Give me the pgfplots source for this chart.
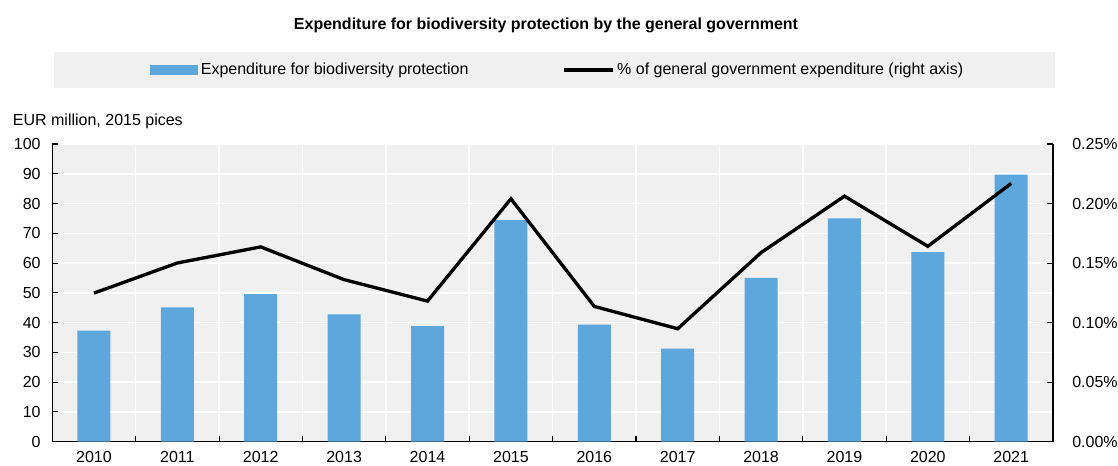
\documentclass[border=0pt]{standalone}
\usepackage{fontspec}
\setmainfont{Liberation Sans}
\usepackage{pgfplots}
\pgfplotsset{compat=1.18}
\definecolor{barblue}{HTML}{5DA7DD}
\definecolor{bggray}{HTML}{F0F0F0}
\begin{document}
\begin{tikzpicture}
\useasboundingbox (-39.2pt,-17.5pt) rectangle (799.3pt,331.3pt);
\fill[bggray] (1.5pt,292pt) rectangle (752pt,265.5pt);
\node[font=\bfseries\fontsize{12}{14}\selectfont] at (370.3pt,312.5pt) {Expenditure for biodiversity protection by the general government};
\node[anchor=west,font=\fontsize{12}{14}\selectfont,inner sep=0pt] at (-29.7pt,240.5pt) {EUR million, 2015 pices};
\begin{axis}[
  at={(0,0)}, anchor=south west,
  scale only axis, width=750.5pt, height=223.3pt,
  xmin=-0.5, xmax=11.5, ymin=0, ymax=100,
  axis x line*=bottom, axis y line*=left,
  axis background/.style={fill=bggray},
  xtick={0,...,11},
  xticklabels={2010,2011,2012,2013,2014,2015,2016,2017,2018,2019,2020,2021},
  minor xtick={0.5,1.5,...,10.5},
  xminorgrids, ymajorgrids,
  grid style={white, line width=1.1pt},
  minor grid style={white, line width=1.1pt},
  major tick length=4.5pt,
  minor tick length=4.5pt,
  major x tick style={draw=none},
  minor x tick style={black, thick},
  every y tick/.style={black, thick},
  tick align=inside,
  ytick={0,10,...,100},
  x axis line style={black, line width=1pt, -},
  y axis line style={black, line width=1pt, -},
  tick label style={font=\fontsize{12}{14}\selectfont},
  /pgf/number format/assume math mode=true,
  ticklabel style={/pgf/number format/1000 sep={}},
  xticklabel style={yshift=-4pt},
  yticklabel style={xshift=-5.25pt},
  legend style={at={(0.0976,1.2485)}, anchor=west, draw=none, fill=none, inner sep=0pt, font=\fontsize{12}{14}\selectfont,
    /tikz/every odd column/.append style={column sep=0pt},
    /tikz/every even column/.append style={column sep=68pt}},
  legend columns=2,
  legend cell align=left,
]
\addplot[ybar, bar width=24.75pt, fill=barblue, draw=none,
  legend image code/.code={\fill[barblue] (0pt,-3.75pt) rectangle (36pt,3.75pt);}] coordinates {
(0,37.3) (1,45.1) (2,49.6) (3,42.8) (4,38.8) (5,74.4) (6,39.3) (7,31.3) (8,55.0) (9,75.0) (10,63.7) (11,89.7)};
\addlegendentry{Expenditure for biodiversity protection}
\addlegendimage{legend image code/.code={\draw[black,line width=2.5pt] (0pt,0pt) -- (37pt,0pt);}}
\addlegendentry{\% of general government expenditure (right axis)}
\end{axis}
\begin{axis}[
  at={(0,0)}, anchor=south west,
  scale only axis, width=750.5pt, height=223.3pt,
  xmin=-0.5, xmax=11.5, ymin=0, ymax=0.25,
  axis y line*=right, axis x line=none,
  ytick={0,0.05,0.1,0.15,0.2,0.25},
  yticklabel={\pgfmathprintnumber[fixed,fixed zerofill,precision=2]{\tick}\%},
  /pgf/number format/assume math mode=true,
  tick label style={font=\fontsize{12}{14}\selectfont},
  yticklabel style={xshift=11pt},
  y axis line style={black, line width=1pt, -},
  major tick length=4.5pt,
  every y tick/.style={black, thick},
  tick align=inside,
]
\addplot[black, line width=2.5pt, mark=none] coordinates {
(0,0.1248) (1,0.1501) (2,0.1636) (3,0.1361) (4,0.1181) (5,0.2040) (6,0.1136) (7,0.0949) (8,0.1588) (9,0.2062) (10,0.1641) (11,0.2169)};
\end{axis}
\end{tikzpicture}
\end{document}
